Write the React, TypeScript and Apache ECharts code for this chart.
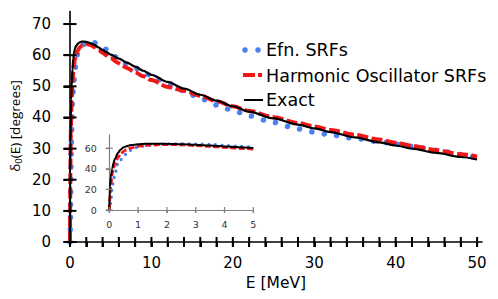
import React, { useEffect, useRef } from 'react';
import * as echarts from 'echarts';

// Energy grid (MeV)
const energy = [0, 0.02, 0.05, 0.1, 0.15, 0.2, 0.3, 0.4, 0.5, 0.6, 0.75, 1, 1.25, 1.5, 2, 2.5, 3, 3.5, 4, 4.5, 5, 6, 7, 8, 9, 10, 12, 14, 16, 18, 20, 22, 25, 28, 30, 32, 35, 38, 40, 42, 45, 48, 50];
// Phase shifts (degrees)
const efnSRFs = [0, 3, 7, 22, 30, 35.6, 45.3, 49, 52, 55, 58, 61.3, 62.3, 63.2, 64.2, 64.3, 64, 63.6, 62.7, 61.8, 60.8, 58.6, 57.1, 55.9, 54.7, 53.3, 50.9, 48.6, 46.1, 44, 42.3, 40.5, 38.4, 36.3, 35.3, 34.4, 33.3, 32.2, 31.4, 30.7, 29.5, 28.1, 27];
const hoSRFs = [0, 12, 24, 35, 41, 45, 51, 54.5, 57, 58.5, 60.2, 61.7, 62.6, 63.2, 63.6, 63.3, 62.6, 61.7, 60.8, 59.9, 59, 57.4, 55.9, 54.5, 53.2, 52, 49.8, 48.6, 47, 45.2, 43.6, 42.1, 40.1, 38.2, 37.1, 36, 34.4, 32.9, 31.9, 30.9, 29.5, 28.2, 27.4];
const exact = [0, 22, 32, 40, 46, 50, 55.5, 58.8, 60.8, 62, 63, 63.8, 64.2, 64.4, 64.3, 63.9, 63.3, 62.5, 61.7, 60.9, 60.2, 58.9, 57.6, 56.3, 55, 53.7, 51.4, 49.3, 47.3, 45.4, 43.6, 41.9, 39.7, 37.7, 36.5, 35.3, 33.6, 32, 31, 30, 28.6, 27.3, 26.5];

const seriesNames = ['Efn. SRFs', 'Harmonic Oscillator SRFs', 'Exact'];

// Tick labels and tick marks
const mainXLabels = [0, 10, 20, 30, 40, 50];
const mainXTicks = [0, 2, 4, 6, 8, 10, 12, 14, 16, 18, 20, 22, 24, 26, 28, 30, 32, 34, 36, 38, 40, 42, 44, 46, 48, 50];
const mainYTicks = [0, 10, 20, 30, 40, 50, 60, 70];
const insetXTicks = [0, 1, 2, 3, 4, 5];
const insetYTicks = [0, 20, 40, 60];

const BLUE = '#4a80f2';
const RED = '#f21616';
const GRAY = '#808080';
const FONT = 'DejaVu Sans';

const pairs = (ys: number[]) => energy.map((e, i) => [e, ys[i]]);
const insetPairs = (ys: number[]) => energy.map((e, i) => [e, ys[i]]).filter((p) => p[0] <= 5);

// crossing tick marks drawn as rectangles through the axis scales (custom series)
const tickSeries = (values: number[], dir: 'x' | 'y', axisIdx: number, half: number, color: string, width: number) => ({
  type: 'custom', xAxisIndex: axisIdx, yAxisIndex: axisIdx, silent: true, z: 10,
  data: values.map((t) => (dir === 'x' ? [t, 0] : [0, t])),
  encode: { x: 0, y: 1 },
  renderItem: (_params: any, api: any) => {
    const p = api.coord([api.value(0), api.value(1)]);
    const shape = dir === 'x'
      ? { x: p[0] - width / 2, y: p[1] - half, width, height: half * 2 }
      : { x: p[0] - half, y: p[1] - width / 2, width: half * 2, height: width };
    return { type: 'rect', shape, style: { fill: color } };
  },
});

export default function App() {
  const ref = useRef<HTMLDivElement>(null);
  useEffect(() => {
    if (!ref.current) return;
    const chart = echarts.init(ref.current, null, { renderer: 'svg' });

    const base = { type: 'value', splitLine: { show: false } };

    const option: any = {
      animation: false,
      backgroundColor: '#ffffff',
      grid: [
        { left: 70, top: 11.6, width: 412, height: 230.4, outerBoundsMode: 'none' },
        { left: 109.3, top: 134.8, width: 144, height: 75.2, outerBoundsMode: 'none' },
      ],
      xAxis: [
        {
          ...base, gridIndex: 0, position: 'bottom', min: 0, max: 50.6,
          name: 'E [MeV]', nameLocation: 'middle', nameGap: 33,
          nameTextStyle: { fontFamily: FONT, fontSize: 15.5, color: '#000' },
          axisLine: { show: true, onZero: false, lineStyle: { color: '#000', width: 1.6 } },
          axisTick: { show: true, length: 5, lineStyle: { color: '#000', width: 2 }, customValues: mainXTicks },
          axisLabel: { show: true, margin: 13, fontFamily: FONT, fontSize: 15, color: '#000', customValues: mainXLabels },
        },
        {
          ...base, gridIndex: 1, position: 'bottom', min: 0, max: 5,
          axisLine: { show: true, onZero: false, lineStyle: { color: GRAY, width: 1.2 } },
          axisTick: { show: true, length: 3, lineStyle: { color: GRAY, width: 1.2 }, customValues: insetXTicks },
          axisLabel: { show: true, margin: 9, fontFamily: FONT, fontSize: 9.5, color: '#333', customValues: insetXTicks },
        },
      ],
      yAxis: [
        {
          ...base, gridIndex: 0, position: 'left', min: 0, max: 74,
          axisLine: { show: true, onZero: false, lineStyle: { color: '#000', width: 1.6 } },
          axisTick: { show: true, length: 6.5, lineStyle: { color: '#000', width: 2 }, customValues: mainYTicks },
          axisLabel: { show: true, margin: 19, fontFamily: FONT, fontSize: 15, color: '#000', customValues: mainYTicks },
        },
        {
          ...base, gridIndex: 1, position: 'left', min: 0, max: 73,
          axisLine: { show: true, onZero: false, lineStyle: { color: GRAY, width: 1.2 } },
          axisTick: { show: true, length: 3.5, lineStyle: { color: GRAY, width: 1.2 }, customValues: insetYTicks },
          axisLabel: { show: true, margin: 12.5, fontFamily: FONT, fontSize: 9.5, color: '#333', customValues: insetYTicks },
        },
      ],
      series: [
        {
          name: seriesNames[0], type: 'line', xAxisIndex: 0, yAxisIndex: 0, data: pairs(efnSRFs),
          showSymbol: false, smooth: 0.3, smoothMonotone: 'x',
          lineStyle: { color: BLUE, width: 5.5, type: [0.01, 12.5], cap: 'round' },
        },
        {
          name: seriesNames[1], type: 'line', xAxisIndex: 0, yAxisIndex: 0, data: pairs(hoSRFs),
          showSymbol: false, smooth: 0.3, smoothMonotone: 'x',
          lineStyle: { color: RED, width: 4, type: [11, 3.5], cap: 'butt' },
        },
        {
          name: seriesNames[2], type: 'line', xAxisIndex: 0, yAxisIndex: 0, data: pairs(exact),
          showSymbol: false, smooth: 0.3, smoothMonotone: 'x',
          lineStyle: { color: '#000', width: 2.2 },
        },
        {
          name: seriesNames[0] + ' (inset)', type: 'line', xAxisIndex: 1, yAxisIndex: 1, data: insetPairs(efnSRFs),
          showSymbol: false, smooth: 0.3, smoothMonotone: 'x',
          lineStyle: { color: BLUE, width: 3.3, type: [0.01, 6.6], cap: 'round' },
        },
        {
          name: seriesNames[1] + ' (inset)', type: 'line', xAxisIndex: 1, yAxisIndex: 1, data: insetPairs(hoSRFs),
          showSymbol: false, smooth: 0.3, smoothMonotone: 'x',
          lineStyle: { color: RED, width: 2.8, type: [6, 2.5], cap: 'butt' },
        },
        {
          name: seriesNames[2] + ' (inset)', type: 'line', xAxisIndex: 1, yAxisIndex: 1, data: insetPairs(exact),
          showSymbol: false, smooth: 0.3, smoothMonotone: 'x',
          lineStyle: { color: '#000', width: 2 },
        },
        tickSeries(mainXTicks, 'x', 0, 5, '#000', 2),
        tickSeries(mainYTicks, 'y', 0, 6.5, '#000', 2),
        tickSeries(insetXTicks, 'x', 1, 3, GRAY, 1.2),
        tickSeries(insetYTicks, 'y', 1, 3.5, GRAY, 1.2),
      ],
      graphic: [
        // y-axis title
        {
          type: 'text', x: 15, y: 126, rotation: Math.PI / 2,
          style: {
            text: '{a|δ}{s|0}{a|(E) [degrees]}', align: 'center', verticalAlign: 'middle',
            rich: {
              a: { fontFamily: 'Open Sans', fontSize: 13.5, fill: '#000' },
              s: { fontFamily: 'Open Sans', fontSize: 9.5, fill: '#000', padding: [6, 0, 0, 0] },
            },
          },
        },
        // legend
        { type: 'circle', shape: { cx: 245, cy: 50, r: 2.8 }, style: { fill: BLUE } },
        { type: 'circle', shape: { cx: 258, cy: 50, r: 2.8 }, style: { fill: BLUE } },
        { type: 'line', shape: { x1: 243, y1: 75, x2: 262, y2: 75 }, style: { stroke: RED, lineWidth: 4, lineDash: [12, 3] } },
        { type: 'line', shape: { x1: 244, y1: 100, x2: 263, y2: 100 }, style: { stroke: '#000', lineWidth: 2 } },
        { type: 'text', x: 266, y: 50, style: { text: seriesNames[0], fontFamily: FONT, fontSize: 17.5, fill: '#000', verticalAlign: 'middle' } },
        { type: 'text', x: 266, y: 76, style: { text: seriesNames[1], fontFamily: FONT, fontSize: 17.5, fill: '#000', verticalAlign: 'middle' } },
        { type: 'text', x: 266, y: 100, style: { text: seriesNames[2], fontFamily: FONT, fontSize: 17.5, fill: '#000', verticalAlign: 'middle' } },
      ],
    };
    chart.setOption(option);
    return () => chart.dispose();
  }, []);
  return <div ref={ref} style={{ position: 'fixed', left: 0, top: 0, width: 498, height: 299 }} />;
}
